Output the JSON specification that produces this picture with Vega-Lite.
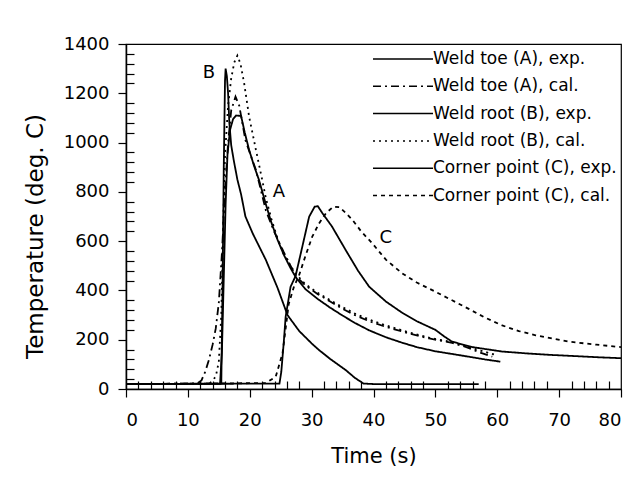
{
  "$schema": "https://vega.github.io/schema/vega-lite/v6.json",
  "width": 495,
  "height": 345,
  "padding": {"left": 24, "top": 35, "right": 20, "bottom": 10},
  "background": "white",
  "config": {
    "font": "DejaVu Sans",
    "view": {"stroke": "black", "strokeWidth": 1.2},
    "axis": {
      "domainColor": "black", "tickColor": "black", "labelColor": "black", "titleColor": "black",
      "grid": false, "labelFont": "DejaVu Sans", "titleFont": "DejaVu Sans", "titleFontWeight": "normal",
      "labelFontSize": 18, "domainWidth": 1.5, "tickWidth": 1.2
    },
    "legend": {
      "orient": "top-right", "offset": 0, "padding": 4,
      "symbolType": "M-1,0H5.0", "symbolSize": 400, "symbolStrokeWidth": 1.5,
      "symbolStrokeColor": "black", "symbolFillColor": "transparent",
      "labelFont": "DejaVu Sans", "labelFontSize": 17, "labelColor": "black",
      "labelOffset": 39, "labelLimit": 300, "rowPadding": 8.3
    }
  },
  "datasets": {
    "curves": [
      {"series": "Weld toe (A), exp.", "t": 0, "T": 20},
      {"series": "Weld toe (A), exp.", "t": 15.2, "T": 21},
      {"series": "Weld toe (A), exp.", "t": 15.5, "T": 150},
      {"series": "Weld toe (A), exp.", "t": 15.8, "T": 450},
      {"series": "Weld toe (A), exp.", "t": 16.1, "T": 750},
      {"series": "Weld toe (A), exp.", "t": 16.4, "T": 950},
      {"series": "Weld toe (A), exp.", "t": 16.8, "T": 1050},
      {"series": "Weld toe (A), exp.", "t": 17.3, "T": 1095},
      {"series": "Weld toe (A), exp.", "t": 17.8, "T": 1110},
      {"series": "Weld toe (A), exp.", "t": 18.6, "T": 1108},
      {"series": "Weld toe (A), exp.", "t": 19.2, "T": 1040},
      {"series": "Weld toe (A), exp.", "t": 19.9, "T": 970},
      {"series": "Weld toe (A), exp.", "t": 20.7, "T": 905},
      {"series": "Weld toe (A), exp.", "t": 21.5, "T": 848},
      {"series": "Weld toe (A), exp.", "t": 22.6, "T": 750},
      {"series": "Weld toe (A), exp.", "t": 23.5, "T": 675},
      {"series": "Weld toe (A), exp.", "t": 24.5, "T": 605},
      {"series": "Weld toe (A), exp.", "t": 25.5, "T": 545},
      {"series": "Weld toe (A), exp.", "t": 26.5, "T": 495},
      {"series": "Weld toe (A), exp.", "t": 27.4, "T": 455},
      {"series": "Weld toe (A), exp.", "t": 29, "T": 405},
      {"series": "Weld toe (A), exp.", "t": 31, "T": 365},
      {"series": "Weld toe (A), exp.", "t": 33, "T": 330},
      {"series": "Weld toe (A), exp.", "t": 35, "T": 298},
      {"series": "Weld toe (A), exp.", "t": 37, "T": 268},
      {"series": "Weld toe (A), exp.", "t": 39.3, "T": 238},
      {"series": "Weld toe (A), exp.", "t": 42, "T": 210},
      {"series": "Weld toe (A), exp.", "t": 44.6, "T": 188},
      {"series": "Weld toe (A), exp.", "t": 47, "T": 170},
      {"series": "Weld toe (A), exp.", "t": 50, "T": 153},
      {"series": "Weld toe (A), exp.", "t": 53, "T": 141},
      {"series": "Weld toe (A), exp.", "t": 55.4, "T": 131},
      {"series": "Weld toe (A), exp.", "t": 58, "T": 120},
      {"series": "Weld toe (A), exp.", "t": 60.5, "T": 111},

      {"series": "Weld toe (A), cal.", "t": 0, "T": 20},
      {"series": "Weld toe (A), cal.", "t": 11.5, "T": 22},
      {"series": "Weld toe (A), cal.", "t": 12.2, "T": 35},
      {"series": "Weld toe (A), cal.", "t": 12.8, "T": 70},
      {"series": "Weld toe (A), cal.", "t": 13.4, "T": 118},
      {"series": "Weld toe (A), cal.", "t": 14, "T": 180},
      {"series": "Weld toe (A), cal.", "t": 14.5, "T": 245},
      {"series": "Weld toe (A), cal.", "t": 15, "T": 350},
      {"series": "Weld toe (A), cal.", "t": 15.5, "T": 550},
      {"series": "Weld toe (A), cal.", "t": 16, "T": 800},
      {"series": "Weld toe (A), cal.", "t": 16.5, "T": 1000},
      {"series": "Weld toe (A), cal.", "t": 17, "T": 1130},
      {"series": "Weld toe (A), cal.", "t": 17.7, "T": 1186},
      {"series": "Weld toe (A), cal.", "t": 18.3, "T": 1150},
      {"series": "Weld toe (A), cal.", "t": 19.3, "T": 1010},
      {"series": "Weld toe (A), cal.", "t": 20.2, "T": 945},
      {"series": "Weld toe (A), cal.", "t": 21, "T": 889},
      {"series": "Weld toe (A), cal.", "t": 22.6, "T": 725},
      {"series": "Weld toe (A), cal.", "t": 24, "T": 635},
      {"series": "Weld toe (A), cal.", "t": 25.5, "T": 555},
      {"series": "Weld toe (A), cal.", "t": 27.4, "T": 460},
      {"series": "Weld toe (A), cal.", "t": 29, "T": 420},
      {"series": "Weld toe (A), cal.", "t": 31, "T": 385},
      {"series": "Weld toe (A), cal.", "t": 33, "T": 355},
      {"series": "Weld toe (A), cal.", "t": 35, "T": 325},
      {"series": "Weld toe (A), cal.", "t": 37, "T": 300},
      {"series": "Weld toe (A), cal.", "t": 39.3, "T": 275},
      {"series": "Weld toe (A), cal.", "t": 42, "T": 252},
      {"series": "Weld toe (A), cal.", "t": 45.7, "T": 226},
      {"series": "Weld toe (A), cal.", "t": 49, "T": 205},
      {"series": "Weld toe (A), cal.", "t": 52.7, "T": 187},
      {"series": "Weld toe (A), cal.", "t": 55, "T": 170},
      {"series": "Weld toe (A), cal.", "t": 57, "T": 150},
      {"series": "Weld toe (A), cal.", "t": 59.2, "T": 131},

      {"series": "Weld root (B), exp.", "t": 0, "T": 20},
      {"series": "Weld root (B), exp.", "t": 15.4, "T": 22},
      {"series": "Weld root (B), exp.", "t": 15.6, "T": 400},
      {"series": "Weld root (B), exp.", "t": 15.8, "T": 900},
      {"series": "Weld root (B), exp.", "t": 16, "T": 1250},
      {"series": "Weld root (B), exp.", "t": 16.1, "T": 1300},
      {"series": "Weld root (B), exp.", "t": 16.3, "T": 1270},
      {"series": "Weld root (B), exp.", "t": 16.5, "T": 1200},
      {"series": "Weld root (B), exp.", "t": 16.7, "T": 1080},
      {"series": "Weld root (B), exp.", "t": 17, "T": 990},
      {"series": "Weld root (B), exp.", "t": 17.4, "T": 930},
      {"series": "Weld root (B), exp.", "t": 18, "T": 850},
      {"series": "Weld root (B), exp.", "t": 18.6, "T": 790},
      {"series": "Weld root (B), exp.", "t": 19.3, "T": 700},
      {"series": "Weld root (B), exp.", "t": 20.5, "T": 630},
      {"series": "Weld root (B), exp.", "t": 22.6, "T": 524},
      {"series": "Weld root (B), exp.", "t": 24.5, "T": 410},
      {"series": "Weld root (B), exp.", "t": 26.1, "T": 300},
      {"series": "Weld root (B), exp.", "t": 28, "T": 235},
      {"series": "Weld root (B), exp.", "t": 30, "T": 185},
      {"series": "Weld root (B), exp.", "t": 31.2, "T": 158},
      {"series": "Weld root (B), exp.", "t": 33, "T": 122},
      {"series": "Weld root (B), exp.", "t": 35.5, "T": 77},
      {"series": "Weld root (B), exp.", "t": 37, "T": 45},
      {"series": "Weld root (B), exp.", "t": 38.4, "T": 22},
      {"series": "Weld root (B), exp.", "t": 40, "T": 20},
      {"series": "Weld root (B), exp.", "t": 57, "T": 20},

      {"series": "Weld root (B), cal.", "t": 0, "T": 20},
      {"series": "Weld root (B), cal.", "t": 13.5, "T": 22},
      {"series": "Weld root (B), cal.", "t": 14.5, "T": 50},
      {"series": "Weld root (B), cal.", "t": 15, "T": 110},
      {"series": "Weld root (B), cal.", "t": 15.4, "T": 300},
      {"series": "Weld root (B), cal.", "t": 15.7, "T": 650},
      {"series": "Weld root (B), cal.", "t": 16, "T": 950},
      {"series": "Weld root (B), cal.", "t": 16.5, "T": 1150},
      {"series": "Weld root (B), cal.", "t": 17, "T": 1260},
      {"series": "Weld root (B), cal.", "t": 17.5, "T": 1325},
      {"series": "Weld root (B), cal.", "t": 18, "T": 1353},
      {"series": "Weld root (B), cal.", "t": 18.5, "T": 1320},
      {"series": "Weld root (B), cal.", "t": 19.1, "T": 1240},
      {"series": "Weld root (B), cal.", "t": 19.9, "T": 1105},
      {"series": "Weld root (B), cal.", "t": 21, "T": 970},
      {"series": "Weld root (B), cal.", "t": 22, "T": 850},
      {"series": "Weld root (B), cal.", "t": 22.6, "T": 775},
      {"series": "Weld root (B), cal.", "t": 23.5, "T": 690},
      {"series": "Weld root (B), cal.", "t": 24.5, "T": 610},
      {"series": "Weld root (B), cal.", "t": 25.5, "T": 545},
      {"series": "Weld root (B), cal.", "t": 27.4, "T": 468},
      {"series": "Weld root (B), cal.", "t": 29, "T": 425},
      {"series": "Weld root (B), cal.", "t": 31, "T": 390},
      {"series": "Weld root (B), cal.", "t": 33, "T": 360},
      {"series": "Weld root (B), cal.", "t": 35, "T": 332},
      {"series": "Weld root (B), cal.", "t": 37, "T": 306},
      {"series": "Weld root (B), cal.", "t": 39.3, "T": 282},
      {"series": "Weld root (B), cal.", "t": 42, "T": 258},
      {"series": "Weld root (B), cal.", "t": 45.7, "T": 230},
      {"series": "Weld root (B), cal.", "t": 49, "T": 208},
      {"series": "Weld root (B), cal.", "t": 52.7, "T": 190},
      {"series": "Weld root (B), cal.", "t": 55, "T": 174},
      {"series": "Weld root (B), cal.", "t": 57, "T": 158},
      {"series": "Weld root (B), cal.", "t": 59.5, "T": 140},

      {"series": "Corner point (C), exp.", "t": 0, "T": 20},
      {"series": "Corner point (C), exp.", "t": 24.8, "T": 22},
      {"series": "Corner point (C), exp.", "t": 25.1, "T": 70},
      {"series": "Corner point (C), exp.", "t": 25.5, "T": 190},
      {"series": "Corner point (C), exp.", "t": 25.8, "T": 293},
      {"series": "Corner point (C), exp.", "t": 26.6, "T": 415},
      {"series": "Corner point (C), exp.", "t": 27.4, "T": 458},
      {"series": "Corner point (C), exp.", "t": 28.5, "T": 578},
      {"series": "Corner point (C), exp.", "t": 29.6, "T": 699},
      {"series": "Corner point (C), exp.", "t": 30.5, "T": 740},
      {"series": "Corner point (C), exp.", "t": 31, "T": 742},
      {"series": "Corner point (C), exp.", "t": 31.7, "T": 715},
      {"series": "Corner point (C), exp.", "t": 33.3, "T": 659},
      {"series": "Corner point (C), exp.", "t": 35.5, "T": 564},
      {"series": "Corner point (C), exp.", "t": 37.5, "T": 480},
      {"series": "Corner point (C), exp.", "t": 39.3, "T": 415},
      {"series": "Corner point (C), exp.", "t": 42, "T": 355},
      {"series": "Corner point (C), exp.", "t": 44.6, "T": 310},
      {"series": "Corner point (C), exp.", "t": 47, "T": 275},
      {"series": "Corner point (C), exp.", "t": 50, "T": 240},
      {"series": "Corner point (C), exp.", "t": 51.5, "T": 212},
      {"series": "Corner point (C), exp.", "t": 52.7, "T": 192},
      {"series": "Corner point (C), exp.", "t": 56, "T": 170},
      {"series": "Corner point (C), exp.", "t": 60.8, "T": 152},
      {"series": "Corner point (C), exp.", "t": 65, "T": 144},
      {"series": "Corner point (C), exp.", "t": 68.9, "T": 138},
      {"series": "Corner point (C), exp.", "t": 73, "T": 133},
      {"series": "Corner point (C), exp.", "t": 77, "T": 128},
      {"series": "Corner point (C), exp.", "t": 80, "T": 125},

      {"series": "Corner point (C), cal.", "t": 0, "T": 20},
      {"series": "Corner point (C), cal.", "t": 22.6, "T": 24},
      {"series": "Corner point (C), cal.", "t": 24.2, "T": 50},
      {"series": "Corner point (C), cal.", "t": 25.3, "T": 145},
      {"series": "Corner point (C), cal.", "t": 26.3, "T": 345},
      {"series": "Corner point (C), cal.", "t": 27.2, "T": 420},
      {"series": "Corner point (C), cal.", "t": 27.9, "T": 456},
      {"series": "Corner point (C), cal.", "t": 29, "T": 540},
      {"series": "Corner point (C), cal.", "t": 30.1, "T": 618},
      {"series": "Corner point (C), cal.", "t": 31.2, "T": 672},
      {"series": "Corner point (C), cal.", "t": 32.3, "T": 713},
      {"series": "Corner point (C), cal.", "t": 33.5, "T": 740},
      {"series": "Corner point (C), cal.", "t": 34.5, "T": 738},
      {"series": "Corner point (C), cal.", "t": 35.5, "T": 715},
      {"series": "Corner point (C), cal.", "t": 36.6, "T": 686},
      {"series": "Corner point (C), cal.", "t": 38, "T": 640},
      {"series": "Corner point (C), cal.", "t": 39.8, "T": 591},
      {"series": "Corner point (C), cal.", "t": 42, "T": 525},
      {"series": "Corner point (C), cal.", "t": 44.6, "T": 470},
      {"series": "Corner point (C), cal.", "t": 47, "T": 432},
      {"series": "Corner point (C), cal.", "t": 50, "T": 395},
      {"series": "Corner point (C), cal.", "t": 52.7, "T": 360},
      {"series": "Corner point (C), cal.", "t": 55.4, "T": 325},
      {"series": "Corner point (C), cal.", "t": 58, "T": 290},
      {"series": "Corner point (C), cal.", "t": 60.8, "T": 258},
      {"series": "Corner point (C), cal.", "t": 63.5, "T": 235},
      {"series": "Corner point (C), cal.", "t": 66.2, "T": 218},
      {"series": "Corner point (C), cal.", "t": 71.6, "T": 192},
      {"series": "Corner point (C), cal.", "t": 76, "T": 180},
      {"series": "Corner point (C), cal.", "t": 80, "T": 170}
    ],
    "labels": [
      {"label": "B", "t": 13.4, "T": 1283},
      {"label": "A", "t": 24.7, "T": 800},
      {"label": "C", "t": 42, "T": 612}
    ]
  },
  "layer": [
    {
      "data": {"name": "curves"},
      "mark": {"type": "line", "color": "black", "strokeWidth": 1.8, "clip": true},
      "encoding": {
        "x": {
          "field": "t", "type": "quantitative",
          "scale": {"domain": [0, 80], "nice": false},
          "axis": {
            "title": "Time (s)",
            "values": [0,2,4,6,8,10,12,14,16,18,20,22,24,26,28,30,32,34,36,38,40,42,44,46,48,50,52,54,56,58,60,62,64,66,68,70,72,74,76,78,80],
            "tickCount": 200,
            "format": "d",
            "labelOverlap": false,
            "labelExpr": "datum.value % 10 === 0 ? datum.label : ''",
            "tickSize": {"condition": {"test": "datum.value % 10 === 0", "value": 8}, "value": -8},
            "labelPadding": 14,
            "titleFontSize": 21,
            "titlePadding": 16
          }
        },
        "y": {
          "field": "T", "type": "quantitative",
          "scale": {"domain": [0, 1400], "nice": false},
          "axis": {
            "title": "Temperature (deg. C)",
            "values": [0,40,80,120,160,200,240,280,320,360,400,440,480,520,560,600,640,680,720,760,800,840,880,920,960,1000,1040,1080,1120,1160,1200,1240,1280,1320,1360,1400],
            "tickCount": 200,
            "format": "d",
            "labelOverlap": false,
            "labelExpr": "datum.value % 200 === 0 ? datum.label : ''",
            "tickSize": {"condition": {"test": "datum.value % 200 === 0", "value": 8}, "value": -8},
            "labelPadding": 9,
            "titleFontSize": 23,
            "titlePadding": 16,
            "titleY": 192
          }
        },
        "strokeDash": {
          "field": "series", "type": "nominal",
          "scale": {
            "domain": ["Weld toe (A), exp.", "Weld toe (A), cal.", "Weld root (B), exp.", "Weld root (B), cal.", "Corner point (C), exp.", "Corner point (C), cal."],
            "range": [[1, 0], [8, 4, 2, 4], [1, 0], [2, 4], [1, 0], [4, 4]]
          },
          "legend": {"title": null}
        }
      }
    },
    {
      "data": {"name": "labels"},
      "mark": {"type": "text", "font": "DejaVu Sans", "fontSize": 18, "color": "black"},
      "encoding": {
        "x": {"field": "t", "type": "quantitative"},
        "y": {"field": "T", "type": "quantitative"},
        "text": {"field": "label"}
      }
    }
  ]
}
